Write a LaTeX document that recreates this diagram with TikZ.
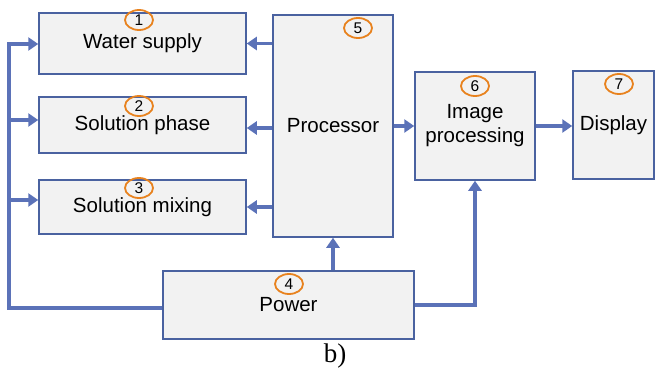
\documentclass[tikz,border=0pt]{standalone}
\usepackage{fontspec}
\setmainfont{Liberation Sans}
\newfontfamily\capfont{Liberation Serif}
\usetikzlibrary{arrows.meta,shapes.geometric}
\definecolor{boxline}{HTML}{4A62A0}
\definecolor{flowblue}{HTML}{5B72B8}
\definecolor{numorange}{HTML}{E8821E}
\definecolor{boxfill}{HTML}{F2F2F2}

\begin{document}
\begin{tikzpicture}[x=1pt,y=-1pt,
    block/.style={draw=boxline, fill=boxfill, line width=1.5pt, inner sep=0pt, align=center, font=\fontsize{20.5}{24}\selectfont},
    num/.style={draw=numorange, ellipse, line width=1.8pt, inner sep=0pt, minimum width=28pt, minimum height=20pt, font=\fontsize{15.5}{15.5}\selectfont},
    flow/.style={draw=flowblue, line width=3.5pt, -{Triangle[length=10pt,width=13pt]}}]
    \useasboundingbox (0,0) rectangle (666,372);

    \node [block, minimum width=207pt, minimum height=61pt] (water) at (142.5,43.5) {Water supply};
    \node [block, minimum width=207pt, minimum height=56pt] (phase) at (142.5,125) {\raisebox{-2pt}{Solution phase}};
    \node [block, minimum width=207pt, minimum height=54pt] (mixing) at (142.5,207) {\raisebox{-3pt}{Solution mixing}};
    \node [block, minimum width=120pt, minimum height=222pt] (proc) at (333,126) {Processor};
    \node [block, minimum width=251pt, minimum height=68pt] (power) at (288.5,305) {Power};
    \node [block, minimum width=120pt, minimum height=108pt] (image) at (475,126) {Image\\processing};
    \node [block, minimum width=81pt, minimum height=108pt] (disp) at (613.5,125) {Display};

    \node [num] (n1) at (139,20) {1};
    \node [num] (n2) at (139,106) {2};
    \node [num] (n3) at (139,188) {3};
    \node [num] (n4) at (289,284) {4};
    \node [num] (n5) at (358,28) {5};
    \node [num] (n6) at (475,86) {6};
    \node [num] (n7) at (619,84) {7};

    % processor outputs
    \draw [flow] (proc.west |- water.east) -- (water.east);
    \draw [flow] ([yshift=-3pt]proc.west |- phase.east) -- ([yshift=-3pt]phase.east);
    \draw [flow] (proc.west |- mixing.east) -- (mixing.east);
    \draw [flow] (proc.east |- image.west) -- (image.west);
    \draw [flow] (image.east) -- (image.east -| disp.west);

    % power lines
    \coordinate (bus) at (9,44);
    \draw [flow] (proc.south |- power.north) -- (proc.south);
    \draw [flow] (power.east) -| (image.south);
    \draw [flow] ([yshift=-3pt]power.west) -| (bus) -- (bus -| water.west);
    \draw [flow] ([yshift=5pt]bus |- phase.west) -- ([yshift=5pt]phase.west);
    \draw [flow] ([yshift=7pt]bus |- mixing.west) -- ([yshift=7pt]mixing.west);

    \node [font=\capfont\fontsize{27}{30}\selectfont] (cap) at (335,356) {b)};
\end{tikzpicture}
\end{document}
